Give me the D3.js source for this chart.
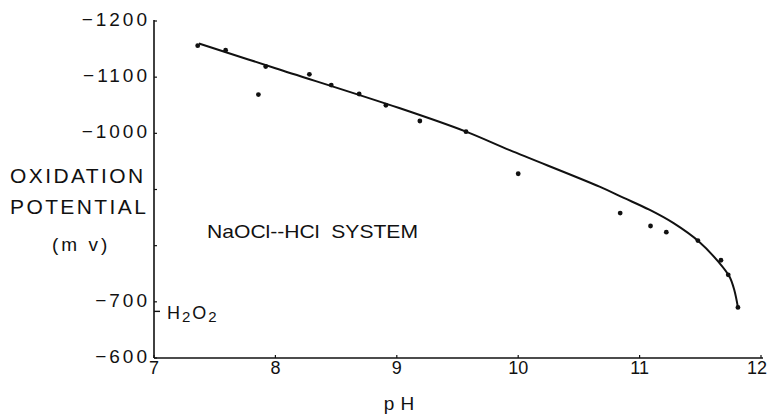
<!DOCTYPE html>
<html>
<head>
<meta charset="utf-8">
<script src="https://cdn.jsdelivr.net/npm/d3@7"></script>
<style>
  body { margin: 0; background: #fff; }
  svg text { font-family: "Liberation Sans", Arial, sans-serif; fill: #111; }
</style>
</head>
<body>
<script>
// measured points (pH, mV)
const phPoints = [7.36, 7.59, 7.92, 7.86, 8.28, 8.46, 8.69, 8.91, 9.19, 9.57, 10.00, 10.84, 11.09, 11.22, 11.48, 11.67, 11.73, 11.81];
const mvPoints = [-1156, -1148, -1119, -1069, -1105, -1086, -1070, -1050, -1022, -1003, -928, -858, -835, -824, -809, -774, -748, -690];

// hand drawn curve through the points
const curvePh = [7.37, 8.00, 9.02, 9.57, 9.93, 10.67, 10.87, 11.08, 11.28, 11.49, 11.65, 11.74, 11.78, 11.81];
const curveMv = [-1160, -1116, -1045, -1003, -970, -905, -885, -864, -840, -807, -771, -745, -721, -690];

const xTicks = [7, 8, 9, 10, 11, 12];
const yTicks = [-600, -700, -800, -900, -1000, -1100, -1200];
const yTickLabels = ["−600", "−700", "", "", "−1000", "−1100", "−1200"];
const yTitle = ["OXIDATION", "POTENTIAL", "(m v)"];
const h2o2Level = -683;

function drawChart() {
    var svg = d3.select("body")
        .append("svg")
        .attr("width", 772)
        .attr("height", 414);

    const x = d3.scaleLinear().domain([7, 12]).range([154, 761]);
    const y = d3.scaleLinear().domain([-600, -1200]).range([358, 21]);

    // axes
    svg.append("line")
        .attr("x1", x(7)).attr("y1", y(-600))
        .attr("x2", x(7)).attr("y2", y(-1200) - 1)
        .style("stroke", "#111").style("stroke-width", 1.6);
    svg.append("line")
        .attr("x1", x(7)).attr("y1", y(-600))
        .attr("x2", x(12) + 2).attr("y2", y(-600))
        .style("stroke", "#111").style("stroke-width", 1.6);

    svg.selectAll(".ytick")
        .data(yTicks)
        .enter().append("line")
        .attr("x1", x(7)).attr("x2", x(7) + 3)
        .attr("y1", d => y(d)).attr("y2", d => y(d))
        .style("stroke", "#111").style("stroke-width", 1.2);

    svg.selectAll(".xtick")
        .data(xTicks)
        .enter().append("line")
        .attr("x1", d => x(d)).attr("x2", d => x(d))
        .attr("y1", y(-600)).attr("y2", y(-600) - 3)
        .style("stroke", "#111").style("stroke-width", 1.2);

    svg.selectAll(".ylabel")
        .data(yTicks)
        .enter().append("text")
        .attr("x", 150)
        .attr("y", d => y(d) + 5)
        .attr("text-anchor", "end")
        .style("font-size", "19px")
        .style("letter-spacing", "3px")
        .text((d, i) => yTickLabels[i]);

    svg.selectAll(".xlabel")
        .data(xTicks)
        .enter().append("text")
        .attr("x", d => x(d) + (d === 12 ? -4 : 0))
        .attr("y", y(-600) + 16)
        .attr("text-anchor", "middle")
        .style("font-size", "18px")
        .text(d => d);

    // axis titles
    svg.append("text")
        .attr("x", 402).attr("y", 410)
        .attr("text-anchor", "middle")
        .style("font-size", "19px")
        .style("letter-spacing", "6px")
        .text("pH");

    svg.append("text")
        .attr("x", 10).attr("y", 183)
        .style("font-size", "21px")
        .style("letter-spacing", "2.4px")
        .text(yTitle[0]);
    svg.append("text")
        .attr("x", 10).attr("y", 214)
        .style("font-size", "21px")
        .style("letter-spacing", "2.4px")
        .text(yTitle[1]);
    svg.append("text")
        .attr("x", 52).attr("y", 251)
        .style("font-size", "19px")
        .style("letter-spacing", "3px")
        .text(yTitle[2]);

    // annotations
    svg.append("text")
        .attr("x", 207).attr("y", 238)
        .attr("textLength", 211)
        .attr("lengthAdjust", "spacingAndGlyphs")
        .style("font-size", "18.5px")
        .style("white-space", "pre")
        .text("NaOCl--HCl  SYSTEM");

    svg.append("line")
        .attr("x1", x(7)).attr("x2", x(7) + 6)
        .attr("y1", y(h2o2Level)).attr("y2", y(h2o2Level))
        .style("stroke", "#111").style("stroke-width", 1.4);

    var h2o2 = svg.append("text")
        .attr("x", 167).attr("y", y(h2o2Level) + 8)
        .style("font-size", "18px")
        .style("letter-spacing", "2px");
    h2o2.append("tspan").text("H");
    h2o2.append("tspan").attr("dy", 3).style("font-size", "15px").text("2");
    h2o2.append("tspan").attr("dy", -3).text("O");
    h2o2.append("tspan").attr("dy", 3).style("font-size", "15px").text("2");

    // curve
    const curveData = curvePh.map((p, i) => [p, curveMv[i]]);
    const line = d3.line()
        .x(d => x(d[0]))
        .y(d => y(d[1]))
        .curve(d3.curveCatmullRom.alpha(0.5));
    svg.append("path")
        .attr("d", line(curveData))
        .style("fill", "none")
        .style("stroke", "#111")
        .style("stroke-width", 2);

    // points
    svg.selectAll(".pt")
        .data(phPoints)
        .enter().append("circle")
        .attr("cx", d => x(d))
        .attr("cy", (d, i) => y(mvPoints[i]))
        .attr("r", 2.4)
        .style("fill", "#111");
}

document.onreadystatechange = () => {
    if (document.readyState === "complete") {
        drawChart();
    }
};
</script>
</body>
</html>
